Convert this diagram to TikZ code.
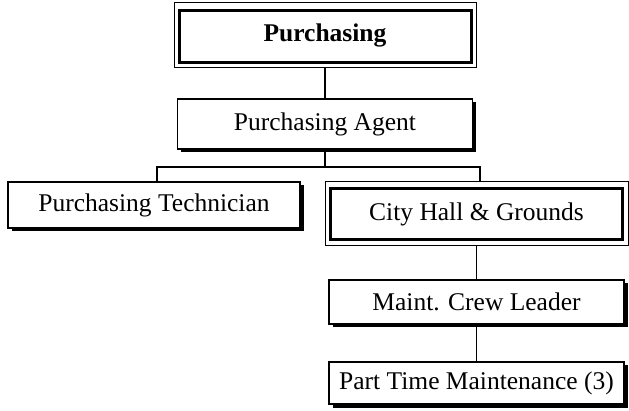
\documentclass[tikz,border=0pt]{standalone}
\usepackage{fontspec}
\setmainfont{Liberation Serif}
\usetikzlibrary{shadows}
\begin{document}
\begin{tikzpicture}[x=1pt,y=-1pt,
  lbl/.style={font=\fontsize{25.5}{30}\selectfont},
  box/.style={lbl, draw, line width=1.1pt, fill=white, inner sep=0pt,
    drop shadow={shadow xshift=3.5pt, shadow yshift=-3.5pt, fill=black, opacity=1}},
  dbox/.style={lbl, draw, line width=1pt, fill=white, inner sep=0pt},
  thickframe/.style={line width=3.5pt},
  conn/.style={line width=1.2pt}]
\useasboundingbox (0,0) rectangle (629,411);
% nodes
\node[dbox, minimum width=302pt, minimum height=65pt, font=\fontsize{25.5}{30}\selectfont\bfseries] (P) at (325,35.5) {Purchasing};
\draw[thickframe] ([shift={(6,8)}]P.north west) rectangle ([shift={(-5,-6)}]P.south east);
\node[box, minimum width=295pt, minimum height=50pt] (A) at (325,124) {Purchasing Agent};
\node[box, minimum width=292pt, minimum height=46pt] (T) at (154,205) {Purchasing Technician};
\node[dbox, minimum width=303pt, minimum height=64pt] (C) at (476.5,214) {City Hall \& Grounds};
\draw[thickframe] ([shift={(6,7)}]C.north west) rectangle ([shift={(-6,-7)}]C.south east);
\node[box, minimum width=295pt, minimum height=44pt] (M) at (476.5,302) {Maint. Crew Leader};
\node[box, minimum width=295pt, minimum height=42pt] (PT) at (476.5,383) {Part Time Maintenance (3)};
% connectors
\coordinate (s) at (325,167);
\coordinate (tl) at (157,167);
\coordinate (tr) at (480,167);
\draw[conn] (P.south) -- (A.north);
\draw[conn] (A.south) -- (s);
\draw[conn] (tl|-T.north) -- (tl) -- (tr) -- (tr|-C.north);
\draw[conn] (C.south) -- (M.north);
\draw[conn] (M.south) -- (PT.north);
\end{tikzpicture}
\end{document}
